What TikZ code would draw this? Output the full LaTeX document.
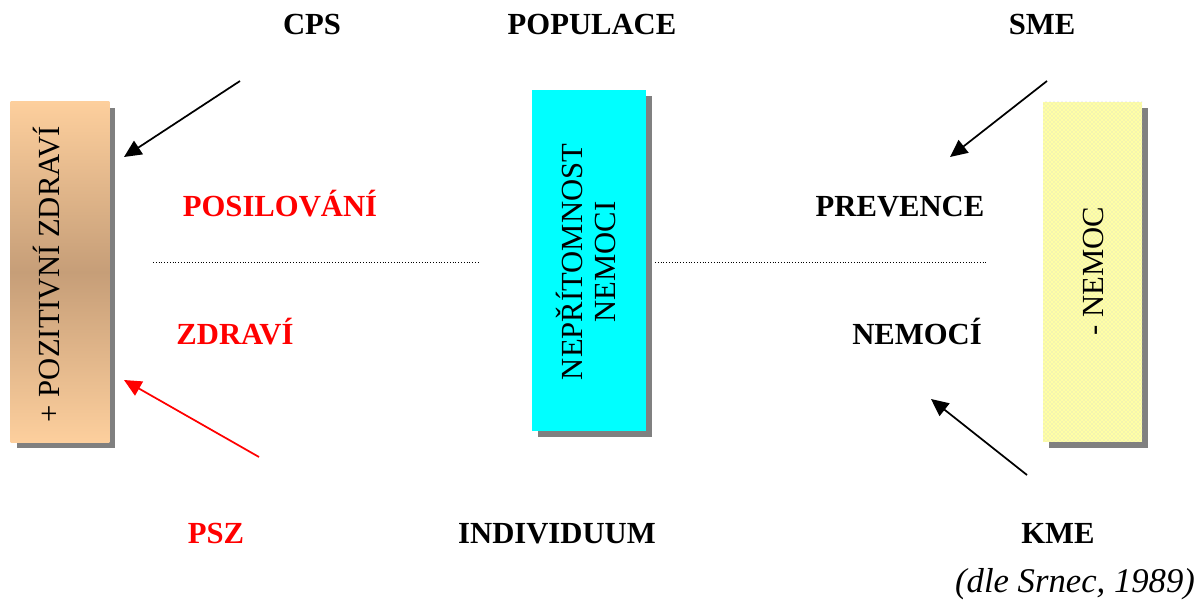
\documentclass[tikz,border=0pt]{standalone}
\usepackage{fontspec}
\setmainfont{Liberation Serif}
\usetikzlibrary{arrows.meta,shadows,patterns}

\definecolor{peachEdge}{RGB}{253,207,157}
\definecolor{peachMid}{RGB}{198,158,120}
\definecolor{boxCyan}{RGB}{0,255,255}
\definecolor{boxYellow}{RGB}{255,255,165}
\definecolor{wordRed}{RGB}{255,0,0}

\tikzset{
  headword/.style={font=\fontsize{23}{26}\selectfont\bfseries, inner sep=0pt, anchor=base},
  boxtext/.style={font=\fontsize{23}{25}\selectfont, inner sep=0pt, rotate=90, align=center},
  shadowbox/.style={inner sep=0pt, drop shadow={shadow xshift=4.5pt, shadow yshift=-4.5pt, fill=black!50, opacity=1}},
  pointer/.style={-{Triangle[length=13pt,width=12pt]}, line width=1.3pt},
  divider/.style={line width=0.7pt, dash pattern=on 0.7pt off 1.4pt}
}

\begin{document}
\begin{tikzpicture}[x=0.75pt,y=0.75pt,yscale=-1,xscale=1]
\useasboundingbox (0,0) rectangle (1200,616);

%Boxes
\node (plusbox) [shadowbox, minimum width=73.5pt, minimum height=255pt, fill=peachEdge] at (60,272) {};
\shade [top color=peachEdge, bottom color=peachEdge, middle color=peachMid] (plusbox.south west) rectangle (plusbox.north east);
\node (absbox) [shadowbox, minimum width=85.5pt, minimum height=255.75pt, fill=boxCyan] at (589,260.5) {};
\node (minusbox) [shadowbox, minimum width=74.25pt, minimum height=255pt, fill=boxYellow, postaction={pattern=crosshatch dots, pattern color=black!18}] at (1092.5,272) {};

% Box Text
\node (plustext) [boxtext] at (47,274) {+ POZITIVNÍ ZDRAVÍ};
\node (abstext) [boxtext] at (586,262) {NEPŘÍTOMNOST\\NEMOCI};
\node (minustext) [boxtext] at (1093,271) {- NEMOC};

% Text Node
\node (cps) [headword] at (312,35) {CPS};
\node (populace) [headword] at (592,35) {POPULACE};
\node (sme) [headword] at (1042,35) {SME};
\node (posilovani) [headword, text=wordRed] at (280,217) {POSILOVÁNÍ};
\node (prevence) [headword] at (900,217) {PREVENCE};
\node (zdravi) [headword, text=wordRed] at (235,345) {ZDRAVÍ};
\node (nemoci) [headword] at (917,345) {NEMOCÍ};
\node (psz) [headword, text=wordRed] at (216,543) {PSZ};
\node (individuum) [headword] at (557,543) {INDIVIDUUM};
\node (kme) [headword] at (1058,543) {KME};
\node (source) [font=\fontsize{26}{28}\selectfont\itshape, inner sep=0pt, anchor=base] at (1075,592) {(dle Srnec, 1989)};

%Dotted Lines
\coordinate (divL1) at (153,262);
\coordinate (divL2) at (480,262);
\coordinate (divR1) at (655,262);
\coordinate (divR2) at (988,262);
\draw [divider] (divL1) -- (divL2);
\draw [divider] (divR1) -- (divR2);

%Arrows
\coordinate (cpsTail) at (240,81);
\coordinate (cpsTip) at (124,157);
\coordinate (pszTail) at (259,457);
\coordinate (pszTip) at (124,380);
\coordinate (smeTail) at (1047,81);
\coordinate (smeTip) at (950,157);
\coordinate (kmeTail) at (1027,475);
\coordinate (kmeTip) at (931,399);
\draw [pointer] (cpsTail) -- (cpsTip);
\draw [pointer, wordRed] (pszTail) -- (pszTip);
\draw [pointer] (smeTail) -- (smeTip);
\draw [pointer] (kmeTail) -- (kmeTip);

\end{tikzpicture}
\end{document}
